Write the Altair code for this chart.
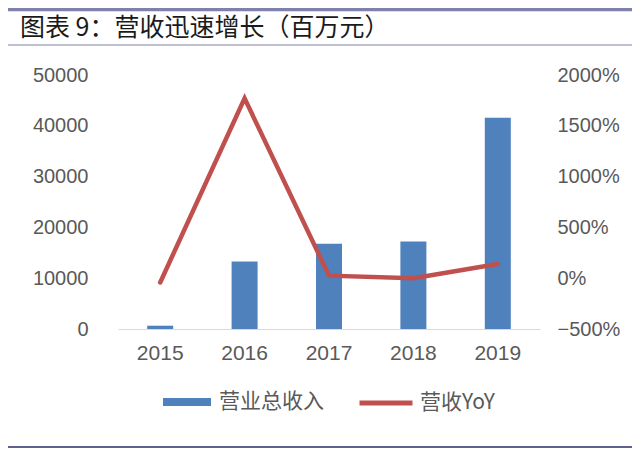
import altair as alt
import pandas as pd

years = ["2015", "2016", "2017", "2018", "2019"]
revenue = [650, 13300, 16800, 17200, 41600]          # 营业总收入 (百万元)
yoy = [-0.42, 17.7, 0.25, -0.01, 1.40]                # 营收YoY
left_ticks = [0, 10000, 20000, 30000, 40000, 50000]
right_ticks = [-5, 0, 5, 10, 15, 20]
title_text = "图表 9：营收迅速增长（百万元）"
bar_name = "营业总收入"
line_name = "营收YoY"

df = pd.DataFrame({"year": years, "revenue": revenue, "yoy": yoy})
one = pd.DataFrame({"k": [0]})

BLUE = "#4f81bd"
RED = "#c0504d"
LABEL = "#595959"
NUM_FONT = "Liberation Sans"
CJK_FONT = "Noto Sans CJK SC"

x_enc = alt.X("year:N", sort=years, title=None,
              scale=alt.Scale(paddingInner=0, paddingOuter=0),
              axis=alt.Axis(labelAngle=0, ticks=False, domain=True, domainColor="#d9d9d9",
                            domainWidth=1.2, labelFont=NUM_FONT, labelFontSize=21,
                            labelColor=LABEL, labelPadding=13))

bars = alt.Chart(df).mark_bar(size=26, color=BLUE).encode(
    x=x_enc,
    y=alt.Y("revenue:Q", title=None,
            scale=alt.Scale(domain=[0, 50000], nice=False, zero=True),
            axis=alt.Axis(values=left_ticks, grid=False, ticks=False, domain=False,
                          labelFont=NUM_FONT, labelFontSize=20, labelColor=LABEL,
                          labelPadding=30, format="d")),
    color=alt.Color("series:N",
                    scale=alt.Scale(domain=[bar_name], range=[BLUE]),
                    legend=alt.Legend(title=None, orient="none", legendX=45, legendY=303,
                                      symbolType="M-1,-0.17H1V0.17H-1Z", symbolSize=2304,
                                      symbolStrokeWidth=0, labelOffset=8, padding=0,
                                      labelFont=CJK_FONT, labelFontSize=21, labelColor=LABEL)),
).transform_calculate(series=f"'{bar_name}'")

line = alt.Chart(df).mark_line(color=RED, strokeWidth=4.5, strokeCap="round").encode(
    x=alt.X("year:N", sort=years),
    y=alt.Y("yoy:Q", title=None,
            scale=alt.Scale(domain=[-5, 20], nice=False, zero=False),
            axis=alt.Axis(values=right_ticks, grid=False, ticks=False, domain=False,
                          labelFont=NUM_FONT, labelFontSize=20, labelColor=LABEL,
                          labelPadding=17, format=".0%", orient="right")),
    color=alt.Color("series:N",
                    scale=alt.Scale(domain=[line_name], range=[RED]),
                    legend=alt.Legend(title=None, orient="none", legendX=239, legendY=299,
                                      symbolType="stroke", symbolSize=2809,
                                      symbolStrokeWidth=5, labelOffset=5, padding=0,
                                      labelFont=CJK_FONT, labelFontSize=21, labelColor=LABEL)),
).transform_calculate(series=f"'{line_name}'")

title = alt.Chart(one).mark_text(text=title_text, align="left", baseline="middle",
                                 font=CJK_FONT, fontSize=25, color="#1a1a1a").encode(
    x=alt.value(-98), y=alt.value(-47))

top_rule = alt.Chart(one).mark_rule(color="#8080ac", strokeWidth=3.5).encode(
    x=alt.value(-110), x2=alt.value(514), y=alt.value(-65.5))
sub_rule = alt.Chart(one).mark_rule(color="#aaaac6", strokeWidth=1.5).encode(
    x=alt.value(-110), x2=alt.value(514), y=alt.value(-30))
bottom_rule = alt.Chart(one).mark_rule(color="#60608e", strokeWidth=2).encode(
    x=alt.value(-110), x2=alt.value(514), y=alt.value(372))

main = alt.layer(bars, line).resolve_scale(y="independent", color="independent")

chart = alt.layer(main, title, top_rule, sub_rule, bottom_rule).properties(
    width=422, height=254,
    autosize=alt.AutoSizeParams(type="none"),
    padding={"left": 110, "top": 67, "right": 92, "bottom": 120},
    background="white",
).configure_view(stroke=None)

chart.save("out.html", embed_options={"renderer": "svg", "actions": False})
